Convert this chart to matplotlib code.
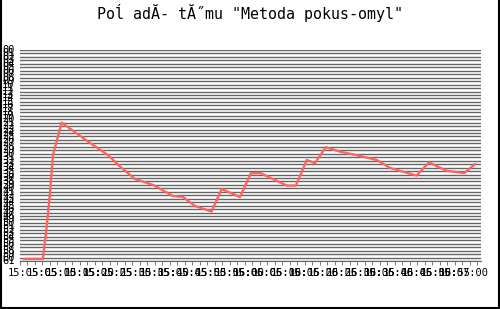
import numpy as np
import matplotlib
matplotlib.use('Agg')
import matplotlib.pyplot as plt
from matplotlib.ticker import MultipleLocator, FixedLocator

# seconds since start, team rank
secs = [1.1, 6.1, 7.1, 8.0, 8.8, 11.1, 12.0, 17.8, 23.5, 26.7, 30.7, 35.5, 40.8, 43.5,
        46.7, 51.1, 53.8, 58.7, 61.6, 64.2, 71.2, 73.6, 76.5, 78.7, 81.6, 85.4, 89.8,
        95.2, 98.7, 105.8, 109.1, 113.8, 118.5, 121.4]
rank = [60.4, 60.4, 51.2, 41.3, 30.4, 21.0, 21.7, 26.2, 30.4, 33.7, 37.3, 39.0, 42.2, 42.5,
        45.1, 46.7, 40.2, 42.5, 35.6, 35.6, 39.2, 39.2, 31.8, 32.7, 28.1, 29.4, 30.4,
        31.8, 34.1, 36.3, 32.5, 34.9, 35.6, 33.0]

xtick_pos = [3.5, 8.5, 13.5, 18.5, 23.5, 28.5, 33.5, 38.5, 43.5, 48.5, 53.5, 58.5,
             63.5, 68.5, 73.5, 78.5, 83.5, 88.5, 93.5, 98.5, 103.5, 108.5, 113.5, 118.5]
xtick_labels = ["15:05:05", "15:05:10", "15:05:15", "15:05:20", "15:05:25", "15:05:30",
                "15:05:35", "15:05:40", "15:05:45", "15:05:50", "15:05:55", "15:06:00",
                "15:06:05", "15:06:10", "15:06:15", "15:06:20", "15:06:25", "15:06:30",
                "15:06:35", "15:06:40", "15:06:45", "15:06:50", "15:06:55", "15:07:00"]
yticks = list(range(0, 62))

title = 'Poĺ adĂ- tĂ˝mu "Metoda pokus-omyl"'

fig = plt.figure(figsize=(5, 3.09), dpi=100)
ax = fig.add_axes([20/500, 1-261/309, 461/500, 211/309])

for y in yticks:
    ax.axhline(y, color='#666666', lw=1.0, zorder=1)

ax.plot(secs, rank, color='#ff6464', lw=1.7, zorder=3)

ax.set_xlim(0, 123)
ax.set_ylim(61, 0)
for s in ['top', 'right', 'left']:
    ax.spines[s].set_visible(False)
ax.spines['bottom'].set_color('#666666')

ax.xaxis.set_major_locator(FixedLocator(xtick_pos))
ax.set_xticklabels(xtick_labels, family='DejaVu Sans Mono', fontsize=7.5)
ax.xaxis.set_minor_locator(MultipleLocator(2))
ax.tick_params(axis='x', which='major', length=0, pad=5)
ax.tick_params(axis='x', which='minor', length=3, color='#666666', direction='out')

ax.set_yticks(yticks)
ax.set_yticklabels([f"{v:02d}" for v in yticks], fontsize=7.5,
                   family='DejaVu Sans Mono', va='center')
ax.tick_params(axis='y', length=0, pad=4)

fig.text(0.5, 1-13/309, title, ha='center', va='center',
         family='DejaVu Sans Mono', fontsize=10.8)

# frame around picture
for xs, ys in [([1, 1], [0, 309]), ([499, 499], [0, 309]), ([0, 500], [308, 308])]:
    fig.add_artist(plt.Line2D([x/500 for x in xs], [1-y/309 for y in ys],
                              color='black', lw=1.5, transform=fig.transFigure))

fig.savefig('out.png', dpi=100)
